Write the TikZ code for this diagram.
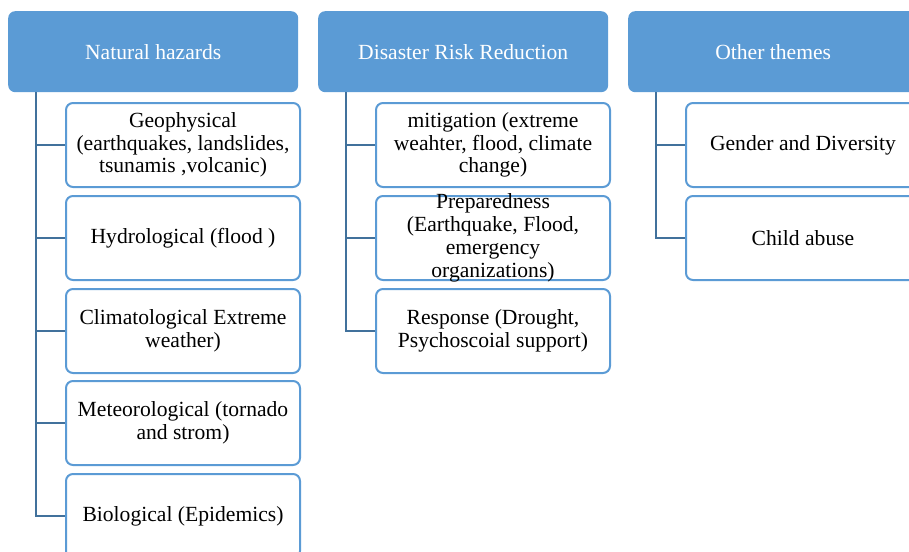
\documentclass[tikz,border=0pt]{standalone}
\usepackage{fontspec}
\setmainfont{Liberation Serif}
\definecolor{hdr}{HTML}{5B9BD5}
\definecolor{conn}{HTML}{41719C}
\begin{document}
\begin{tikzpicture}[x=1pt,y=-1pt,
  txt/.style={font=\fontsize{21.6}{22.8}\selectfont},
  hdrbox/.style={txt, rectangle, rounded corners=7pt, fill=hdr, draw=none, text=white,
    minimum width=290pt, minimum height=81pt, anchor=north west, inner sep=0pt},
  childbox/.style={txt, rectangle, rounded corners=7pt, draw=hdr, line width=2pt, fill=white,
    minimum width=234pt, minimum height=84pt, anchor=north west, inner sep=0pt, align=center},
  link/.style={draw=conn, line width=2.2pt}]
\useasboundingbox (0,0) rectangle (909,551);
\clip (0,0) rectangle (909,551);

% headers
\node[hdrbox] (h1) at (8,11) {Natural hazards};
\node[hdrbox] (h2) at (318,11) {Disaster Risk Reduction};
\node[hdrbox] (h3) at (628,11) {Other themes};

% natural hazards children
\node[childbox] (n1) at (65,102) {Geophysical\\(earthquakes, landslides,\\tsunamis ,volcanic)};
\node[childbox] (n2) at (65,195) {Hydrological (flood )};
\node[childbox] (n3) at (65,288) {Climatological Extreme\\weather)};
\node[childbox] (n4) at (65,380) {Meteorological (tornado\\and strom)};
\node[childbox] (n5) at (65,473) {Biological (Epidemics)};

% DRR children
\node[childbox] (d1) at (375,102) {mitigation (extreme\\weahter, flood, climate\\change)};
\node[childbox] (d2) at (375,195) {\parbox[c][70pt][c]{230pt}{\centering Preparedness\\(Earthquake, Flood,\\emergency\\organizations)}};
\node[childbox] (d3) at (375,288) {Response (Drought,\\Psychoscoial support)};

% other themes children
\node[childbox] (o1) at (685,102) {Gender and Diversity};
\node[childbox] (o2) at (685,195) {Child abuse};

% connectors
\foreach \c in {n1,n2,n3,n4,n5}
  \draw[link] ([xshift=28pt]h1.south west) |- (\c.west);
\foreach \c in {d1,d2,d3}
  \draw[link] ([xshift=28pt]h2.south west) |- (\c.west);
\foreach \c in {o1,o2}
  \draw[link] ([xshift=28pt]h3.south west) |- (\c.west);
\end{tikzpicture}
\end{document}
